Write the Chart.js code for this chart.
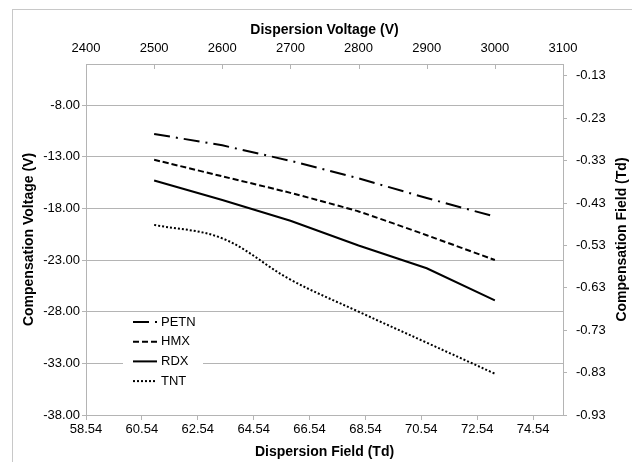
<!DOCTYPE html>
<html>
<head>
<meta charset="utf-8">
<script src="https://cdn.jsdelivr.net/npm/chart.js@4.4.1/dist/chart.umd.min.js"></script>
<style>
html,body{margin:0;padding:0;background:#fff;}
#wrap{width:632px;height:462px;position:relative;}
</style>
</head>
<body>
<div id="wrap"><canvas id="fig"></canvas></div>
<script>
// data (compensation voltage vs dispersion voltage)
const voltage=[2500,2600,2700,2800,2900,3000];
const petn=[-10.8,-11.9,-13.4,-15.1,-17.0,-18.8];
const hmx=[-13.3,-14.9,-16.5,-18.3,-20.6,-23.0];
const rdx=[-15.3,-17.2,-19.2,-21.6,-23.8,-26.9];
const tnt=[-19.6,-20.9,-24.9,-28.0,-31.0,-34.0];

const names=["PETN","HMX","RDX","TNT"];
const dashes=[[16,6,2,6],[6,3],[],[2,2]];
const smooth=[0,0.15,0,0.35];

// tick labels
const fieldTicks=[58.54,60.54,62.54,64.54,66.54,68.54,70.54,72.54,74.54];
const voltTicks=[2400,2500,2600,2700,2800,2900,3000,3100];
const cvTicks=[-38,-33,-28,-23,-18,-13,-8];
const cfTicks=[-0.93,-0.83,-0.73,-0.63,-0.53,-0.43,-0.33,-0.23,-0.13];

const FONT="'Liberation Sans', Arial, sans-serif";
const GRID="#b4b4b4";

function pts(arr){return voltage.map((v,i)=>({x:v,y:arr[i]}));}

const series=[petn,hmx,rdx,tnt];
const datasets=series.map((s,i)=>({
label:names[i],
data:pts(s),
xAxisID:"xTop",
yAxisID:"yLeft",
borderColor:"#000",
borderWidth:2,
borderDash:dashes[i],
pointRadius:0,
tension:smooth[i],
fill:false
}));

const extras={
id:"extras",
beforeDraw(c){
const ctx=c.ctx;
ctx.save();
ctx.strokeStyle="#c8c8c8";
ctx.lineWidth=1;
ctx.strokeRect(12.5,9.5,700,600);
ctx.restore();
},
afterDraw(c){
const ctx=c.ctx,a=c.chartArea,top=c.scales.xTop;
ctx.save();
// inner tick marks of the top axis
ctx.strokeStyle=GRID;ctx.lineWidth=1;
for(const v of voltTicks.slice(1,-1)){
const x=Math.round(top.getPixelForValue(v))+0.5;
ctx.beginPath();ctx.moveTo(x,a.top);ctx.lineTo(x,a.top+5);ctx.stroke();
}
// legend inside the plot
const lx=123,ly=314;
ctx.fillStyle="#fff";
ctx.fillRect(lx,ly,80,76);
ctx.font="13px "+FONT;
ctx.textBaseline="middle";
c.data.datasets.forEach((d,i)=>{
const y=322+i*19.7;
ctx.strokeStyle="#000";ctx.lineWidth=2;
ctx.setLineDash(d.borderDash);
ctx.beginPath();ctx.moveTo(133,y);ctx.lineTo(157,y);ctx.stroke();
ctx.setLineDash([]);
ctx.fillStyle="#000";
ctx.fillText(d.label,161,y);
});
// right axis title, reading bottom to top
ctx.translate(622,(a.top+a.bottom)/2);
ctx.rotate(-Math.PI/2);
ctx.font="bold 14px "+FONT;
ctx.textAlign="center";
ctx.fillText("Compensation Field (Td)",0,0);
ctx.restore();
}
};

const tickFont={family:FONT,size:13};
const titleFont={family:FONT,size:14,weight:"bold"};

new Chart(document.getElementById("fig"),{
type:"line",
data:{datasets:datasets},
options:{
responsive:true,
maintainAspectRatio:false,
animation:false,
layout:{padding:0},
plugins:{legend:{display:false},tooltip:{enabled:false}},
scales:{
xTop:{
type:"linear",position:"top",min:2400,max:3100,
afterBuildTicks:s=>{s.ticks=voltTicks.map(v=>({value:v}));},
afterFit:s=>{s.height=64;},
ticks:{font:tickFont,color:"#000",padding:8,maxRotation:0,callback:v=>String(v)},
grid:{display:true,drawOnChartArea:false,drawTicks:false},
border:{color:GRID,width:1},
title:{display:true,text:"Dispersion Voltage (V)",font:titleFont,color:"#000",padding:{top:22,bottom:0}}
},
xBottom:{
type:"linear",position:"bottom",min:58.54,max:75.61,
afterBuildTicks:s=>{s.ticks=fieldTicks.map(v=>({value:v}));},
afterFit:s=>{s.height=47;},
ticks:{font:tickFont,color:"#000",padding:2,maxRotation:0,callback:v=>v.toFixed(2)},
grid:{drawOnChartArea:false,drawTicks:true,tickLength:5,color:GRID},
border:{color:GRID,width:1},
title:{display:true,text:"Dispersion Field (Td)",font:titleFont,color:"#000",padding:{top:0,bottom:1}}
},
yLeft:{
type:"linear",position:"left",min:-38,max:-4.03,
afterBuildTicks:s=>{s.ticks=cvTicks.map(v=>({value:v}));},
afterFit:s=>{s.width=86;},
ticks:{font:tickFont,color:"#000",padding:2,callback:v=>v.toFixed(2)},
grid:{drawOnChartArea:true,drawTicks:true,tickLength:4,color:GRID},
border:{color:GRID,width:1},
title:{display:true,text:"Compensation Voltage (V)",font:titleFont,color:"#000",padding:{top:21,bottom:0}}
},
yRight:{
type:"linear",position:"right",min:-0.93,max:-0.102,
afterBuildTicks:s=>{s.ticks=cfTicks.map(v=>({value:v}));},
afterFit:s=>{s.width=69;},
ticks:{font:tickFont,color:"#000",padding:9,callback:v=>v.toFixed(2)},
grid:{drawOnChartArea:false,drawTicks:true,tickLength:4,color:GRID},
border:{color:GRID,width:1}
}
}
},
plugins:[extras]
});
</script>
</body>
</html>
